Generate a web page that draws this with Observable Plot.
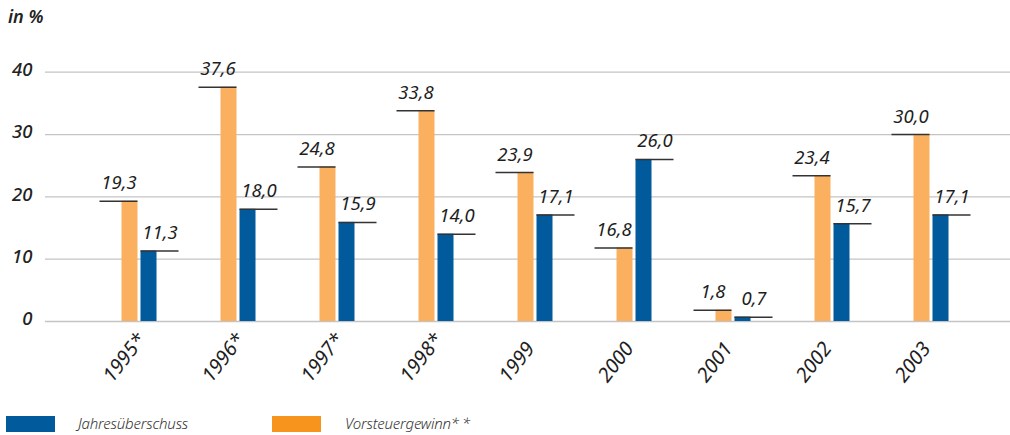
<!DOCTYPE html>
<html>
<head>
<meta charset="utf-8">
<script src="https://cdn.jsdelivr.net/npm/d3@7"></script>
<script src="https://cdn.jsdelivr.net/npm/@observablehq/plot@0.6"></script>
<style>
  html, body { margin: 0; padding: 0; background: #fff; }
  #wrap { position: relative; width: 1010px; height: 435px; overflow: hidden; font-family: "Noto Sans", "Open Sans", sans-serif; }
  #unit { position: absolute; left: 8px; top: 4px; font-size: 18px; font-style: italic; font-weight: 600; color: #222; }
  #chart { position: absolute; left: 0; top: 40px; }
  #legend { position: absolute; left: 0; top: 413px; width: 1010px; height: 22px; }
  .sw { position: absolute; top: 3px; width: 49px; height: 16px; }
  .lt { position: absolute; top: 0px; font-size: 15px; font-style: italic; color: #333; font-weight: 300; letter-spacing: -0.2px; }
  .lt .st { letter-spacing: 3px; }
  #chart svg text { font-family: "Noto Sans", "Open Sans", sans-serif; }
  #chart svg [aria-label="y-axis tick label"] text { font-style: italic; }
</style>
</head>
<body>
<div id="wrap">
  <div id="unit">in %</div>
  <div id="chart"></div>
  <div id="legend">
    <div class="sw" style="left:6px;background:#005A9C"></div>
    <div class="lt" style="left:78px">Jahresüberschuss</div>
    <div class="sw" style="left:272px;background:#F7941E"></div>
    <div class="lt" style="left:345px">Vorsteuergewinn<span class="st">**</span></div>
  </div>
</div>
<script>
// ---- data ----
const years = ["1995*", "1996*", "1997*", "1998*", "1999", "2000", "2001", "2002", "2003"];
const jahresueberschuss = [11.3, 18.0, 15.9, 14.0, 17.1, 26.0, 0.7, 15.7, 17.1];
const vorsteuergewinn = [19.3, 37.6, 24.8, 33.8, 23.9, 16.8, 1.8, 23.4, 30.0];
// bar heights as drawn in the original (2000 bar drawn lower than its label)
const vorsteuergewinnBar = [19.3, 37.6, 24.8, 33.8, 23.9, 11.8, 1.8, 23.4, 30.0];
const yTicks = [0, 10, 20, 30, 40];

const fmt = v => d3.format(".1f")(v).replace(".", ",");

const orange = "#FBB060";
const blue = "#005A9C";

const jData = years.map((y, i) => ({year: y, value: jahresueberschuss[i]}));
const vData = years.map((y, i) => ({year: y, value: vorsteuergewinnBar[i], label: vorsteuergewinn[i]}));

const fs = 18.5;

const plot = Plot.plot({
  width: 1010,
  height: 370,
  marginLeft: 45,
  marginRight: 0,
  marginTop: 31.7,
  marginBottom: 89,
  x: {type: "band", domain: years, paddingInner: 0.839, paddingOuter: 0.775, align: 0.55, axis: null},
  y: {domain: [0, 40], ticks: yTicks, axis: null},
  marks: [
    Plot.gridY(yTicks, {stroke: "#c4c4c4", strokeOpacity: 1, strokeWidth: 1.3}),
    Plot.axisY(yTicks, {label: null, tickSize: 0, tickPadding: 13, fontSize: fs, fill: "#222", dy: -2, fontWeight: 500}),
    Plot.barY(vData, {x: "year", y: "value", fill: orange, dx: -9.5}),
    Plot.barY(jData, {x: "year", y: "value", fill: blue, dx: 9.5}),
    Plot.tickY(vData, {x: "year", y: "value", dx: -9.5, insetLeft: -22, stroke: "#333", strokeWidth: 1.5}),
    Plot.tickY(jData, {x: "year", y: "value", dx: 9.5, insetRight: -22, stroke: "#333", strokeWidth: 1.5}),
    Plot.text(vData, {x: "year", y: "value", text: d => fmt(d.label), dx: -20.5, dy: -12, lineAnchor: "bottom", fontSize: fs, fontStyle: "italic", fill: "#1e1e1e"}),
    Plot.text(jData, {x: "year", y: "value", text: d => fmt(d.value), dx: 20.5, dy: -12, lineAnchor: "bottom", fontSize: fs, fontStyle: "italic", fill: "#1e1e1e"}),
    Plot.text(years, {x: d => d, y: () => 0, text: d => d, rotate: -52, textAnchor: "start", lineAnchor: "bottom", dx: -27, dy: 62, fontSize: 20, fontStyle: "italic", fill: "#1e1e1e"})
  ]
});
document.getElementById("chart").appendChild(plot);
</script>
</body>
</html>
